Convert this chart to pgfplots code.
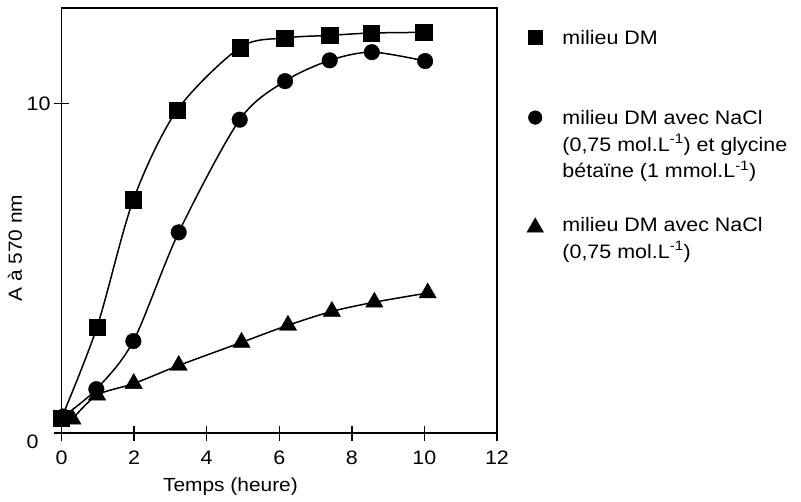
\documentclass[border=0pt]{standalone}
\usepackage{pgfplots}
\pgfplotsset{compat=1.18}
\usepackage{fontspec}
\setmainfont{Liberation Sans}[FakeStretch=1.1]
\pgfplotsset{mylegimg/.style={legend image code/.code={\draw[##1] plot coordinates {(0pt,7pt)};}}}
\pgfplotstableread{
x y
0 0.45
0.98 3.22
1.98 7.08
3.18 9.79
4.92 11.70
6.15 11.99
7.39 12.07
8.53 12.14
9.98 12.16
}\tsq
\pgfplotstableread{
x y
0.05 0.50
0.96 1.33
1.98 2.79
3.23 6.09
4.91 9.51
6.16 10.68
7.39 11.31
8.55 11.56
10.02 11.29
}\tci
\pgfplotstableread{
x y
0.30 0.42
0.98 1.15
1.99 1.50
3.23 2.05
4.96 2.75
6.24 3.27
7.45 3.69
8.62 3.97
10.09 4.25
}\ttr
\begin{document}
\begin{tikzpicture}
\begin{axis}[
  scale only axis, width=435.5pt, height=425pt,
  xmin=0, xmax=12, ymin=0, ymax=12.9,
  xtick={0,2,...,12}, ytick={10},
  extra y ticks={0},
  extra y tick style={yticklabel style={xshift=-12pt, yshift=-9pt}},
  tick align=center, major tick length=15pt,
  xtick pos=bottom, ytick pos=left,
  axis line style={line width=1.5pt},
  every tick/.style={black, line width=1.5pt},
  tick label style={font=\fontsize{19.5}{22}\selectfont},
  xticklabel style={yshift=-7pt},
  /pgf/number format/assume math mode=true,
  xlabel={Temps (heure)},
  ylabel={A à 570 nm},
  xlabel style={font=\fontsize{19}{22}\selectfont, at={(axis description cs:0.388,-0.125)}, anchor=center},
  ylabel style={font=\fontsize{19}{22}\selectfont, at={(axis description cs:-0.107,0.435)}, anchor=center},
  legend style={draw=none, fill=none, inner sep=0pt, outer sep=0pt,
    at={(axis description cs:1.0689,0.9582)}, anchor=north west,
    font=\fontsize{19.5}{26.7}\selectfont,
    row sep=0pt, column sep=19pt,
    nodes={inner sep=0pt, text height=18.7pt, text depth=8pt}, cells={anchor=base west}},
]
\addplot[black, line width=1.5pt, smooth, mark=square*, mark size=8.2pt, mark options={line width=0.4pt, solid}, forget plot] table {\tsq};
\addplot[black, line width=1.5pt, smooth, mark=*, mark size=7.8pt, mark options={line width=0.4pt, solid}, forget plot] table {\tci};
\addplot[black, line width=1.5pt, smooth, mark=triangle*, mark size=10pt, mark options={line width=0.4pt, solid}, forget plot] table {\ttr};
\addlegendimage{only marks, mark=square*, mark size=6.8pt, mark options={line width=0.4pt}, mylegimg}
\addlegendentry{milieu DM}
\addlegendimage{empty legend}
\addlegendentry{\mbox{}}
\addlegendimage{empty legend}
\addlegendentry{\mbox{}}
\addlegendimage{only marks, mark=*, mark size=6.8pt, mark options={line width=0.4pt}, mylegimg}
\addlegendentry{milieu DM avec NaCl}
\addlegendimage{empty legend}
\addlegendentry{(0,75 mol.L\textsuperscript{-1}) et glycine}
\addlegendimage{empty legend}
\addlegendentry{bétaïne (1 mmol.L\textsuperscript{-1})}
\addlegendimage{empty legend}
\addlegendentry{\mbox{}}
\addlegendimage{only marks, mark=triangle*, mark size=9.5pt, mark options={line width=0.4pt}, yshift=-3pt, mylegimg}
\addlegendentry{milieu DM avec NaCl}
\addlegendimage{empty legend}
\addlegendentry{(0,75 mol.L\textsuperscript{-1})}
\end{axis}
\pgfresetboundingbox
\useasboundingbox (current axis.south west) ++(-61.5pt,-68pt) rectangle ++(801pt,501pt);
\end{tikzpicture}
\end{document}
